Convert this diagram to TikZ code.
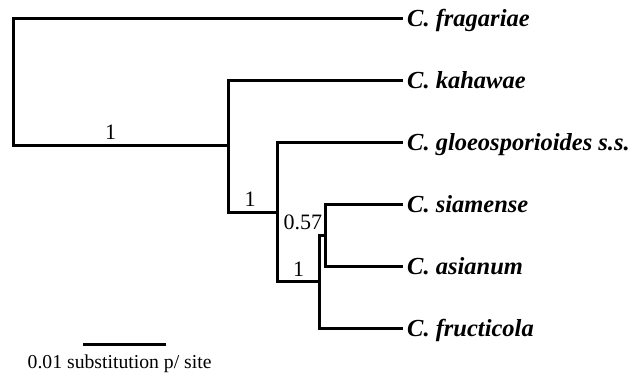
\documentclass[tikz,border=0pt]{standalone}
\usepackage{fontspec}
\setmainfont{Liberation Serif}
\begin{document}
\begin{tikzpicture}[x=1pt,y=-1pt,
  branch/.style={line width=3pt,line join=miter,line cap=rect},
  taxon/.style={anchor=base west,inner sep=0pt,font=\fontsize{24.5}{27}\selectfont\bfseries\itshape},
  support/.style={anchor=base,inner sep=0pt,font=\fontsize{22}{24}\selectfont},
  scaletext/.style={anchor=base west,inner sep=0pt,font=\fontsize{19.7}{22}\selectfont}]
\useasboundingbox (0,0) rectangle (630,375);
% tips
\coordinate (frag) at (401,18);
\coordinate (kah) at (401,80);
\coordinate (gloeo) at (401,142);
\coordinate (siam) at (401,204);
\coordinate (asia) at (401,266);
\coordinate (fruc) at (401,328);
% internal nodes
\coordinate (R) at (13,145);
\coordinate (A) at (228,145);
\coordinate (B) at (277,212);
\coordinate (C) at (319,281);
\coordinate (D) at (325,235);
% branches
\draw[branch] (frag) -| (R) -- (A);
\draw[branch] (kah) -| (A) |- (B);
\draw[branch] (gloeo) -| (B) |- (C);
\draw[branch] (fruc) -| (C) |- (D);
\draw[branch] (siam) -| (D) |- (asia);
% taxon labels
\node[taxon] (fragL) at (407,26) {C. fragariae};
\node[taxon] (kahL) at (407,88) {C. kahawae};
\node[taxon] (gloeoL) at (407,150) {C. gloeosporioides s.s.};
\node[taxon] (siamL) at (407,212) {C. siamense};
\node[taxon] (asiaL) at (407,274) {C. asianum};
\node[taxon] (frucL) at (407,336) {C. fructicola};
% support values
\node[support] (sR) at (110.5,139) {1};
\node[support] (sB) at (250,206) {1};
\node[support] (sC) at (298.5,276) {1};
\node[support] (sD) at (302.8,229.3) {0.57};
% scale bar
\coordinate (sbL) at (83,344);
\coordinate (sbR) at (166,344);
\draw[line width=3pt] (sbL) -- (sbR);
\node[scaletext] (sbT) at (27.5,368) {0.01 substitution p/ site};
\end{tikzpicture}
\end{document}
